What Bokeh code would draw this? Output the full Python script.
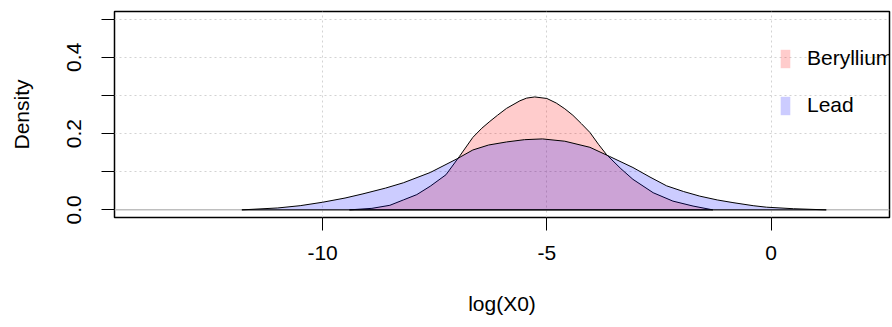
import numpy as np
from bokeh.plotting import figure
from bokeh.models import Range1d, FixedTicker, Span, Legend, LegendItem
from bokeh.embed import file_html
from bokeh.resources import INLINE

# ---- data ----
series_names = ["Beryllium", "Lead"]

be_x = [-9.4, -8.9, -8.5, -8.2, -7.9, -7.6, -7.25, -6.95, -6.65, -6.45, -6.27, -6.1,
        -5.9, -5.6, -5.45, -5.27, -5.0, -4.79, -4.6, -4.42, -4.23, -4.04, -3.85,
        -3.67, -3.35, -3.08, -2.63, -2.19, -1.74, -1.3]
be_y = [0.0, 0.004, 0.012, 0.026, 0.040, 0.062, 0.092, 0.140, 0.190, 0.214, 0.232, 0.248,
        0.266, 0.286, 0.293, 0.296, 0.292, 0.280, 0.265, 0.248, 0.226, 0.203, 0.172,
        0.145, 0.108, 0.080, 0.045, 0.023, 0.010, 0.0]

pb_x = [-11.8, -11.0, -10.5, -10.0, -9.5, -9.1, -8.6, -8.2, -7.6, -7.0, -6.65, -6.3,
        -5.9, -5.5, -5.1, -4.6, -4.04, -3.6, -3.08, -2.7, -2.33, -1.95, -1.59, -1.2,
        -0.85, -0.4, -0.1, 0.5, 1.23]
pb_y = [0.0, 0.005, 0.011, 0.020, 0.031, 0.042, 0.057, 0.071, 0.098, 0.134, 0.157, 0.170,
        0.178, 0.184, 0.186, 0.180, 0.164, 0.140, 0.111, 0.086, 0.063, 0.048, 0.036, 0.026,
        0.019, 0.011, 0.007, 0.003, 0.0]

x_ticks = [-10, -5, 0]
x_tick_labels = ["-10", "-5", "0"]
y_ticks = [0, 0.1, 0.2, 0.3, 0.4, 0.5]
y_tick_labels = ["0.0", "", "0.2", "", "0.4", ""]
y_grid = [0.1, 0.2, 0.3, 0.4, 0.5]

FONT = "Liberation Sans"
FS = "21px"

p = figure(width=892, height=327, output_backend="svg", toolbar_location=None,
           x_range=Range1d(-14.64, 2.64), y_range=Range1d(-0.02, 0.52),
           min_border_left=114, min_border_right=3, min_border_top=11,
           min_border_bottom=110,
           x_axis_label="log(X0)", y_axis_label="Density")
p.background_fill_color = "white"
p.border_fill_color = "white"
p.outline_line_color = "black"
p.outline_line_width = 1.5

# grids
p.xgrid.ticker = FixedTicker(ticks=x_ticks)
p.ygrid.ticker = FixedTicker(ticks=y_grid)
for g in (p.xgrid, p.ygrid):
    g.grid_line_color = "#d3d3d3"
    g.grid_line_dash = "2 3"
    g.grid_line_width = 1

# axes
for ax in (p.xaxis, p.yaxis):
    ax.axis_line_color = None
    ax.major_tick_line_color = "black"
    ax.major_tick_line_width = 1
    ax.major_tick_out = 13
    ax.major_tick_in = 0
    ax.minor_tick_line_color = None
    ax.major_label_text_font = FONT
    ax.major_label_text_font_size = FS
    ax.major_label_text_color = "black"
    ax.axis_label_text_font = FONT
    ax.axis_label_text_font_size = FS
    ax.axis_label_text_font_style = "normal"
    ax.axis_label_text_color = "black"

p.xaxis.ticker = FixedTicker(ticks=x_ticks)
p.xaxis.major_label_overrides = {t: l for t, l in zip(x_ticks, x_tick_labels)}
p.xaxis.major_label_standoff = 15
p.xaxis.axis_label_standoff = 29

p.yaxis.ticker = FixedTicker(ticks=y_ticks)
p.yaxis.major_label_overrides = {t: l for t, l in zip(y_ticks, y_tick_labels)}
p.yaxis.major_label_orientation = "parallel"
p.yaxis.major_label_standoff = 20
p.yaxis.axis_label_standoff = 32

# zero line
p.add_layout(Span(location=0, dimension="width", line_color="#bebebe",
                  line_width=1.5, level="underlay"))

# densities
p.patch(be_x, be_y, fill_color="red", fill_alpha=0.2, line_color="black", line_width=1)
p.patch(pb_x, pb_y, fill_color="blue", fill_alpha=0.2, line_color="black", line_width=1)

# legend (fill boxes without border); placeholder glyphs hold no visible position
nan = float("nan")
r_be = p.quad(left=[nan], right=[nan], top=[nan], bottom=[nan], fill_color="red",
              fill_alpha=0.2, line_alpha=0)
r_pb = p.quad(left=[nan], right=[nan], top=[nan], bottom=[nan], fill_color="blue",
              fill_alpha=0.2, line_alpha=0)
legend = Legend(items=[LegendItem(label=series_names[0], renderers=[r_be]),
                       LegendItem(label=series_names[1], renderers=[r_pb])],
                location=(665, 100), glyph_width=12, glyph_height=23,
                label_standoff=16, spacing=23, padding=0, margin=0,
                border_line_alpha=0, background_fill_alpha=0,
                label_text_font=FONT, label_text_font_size=FS,
                label_text_color="black", label_height=23)
p.add_layout(legend)

open("out.html", "w").write(file_html(p, INLINE))
